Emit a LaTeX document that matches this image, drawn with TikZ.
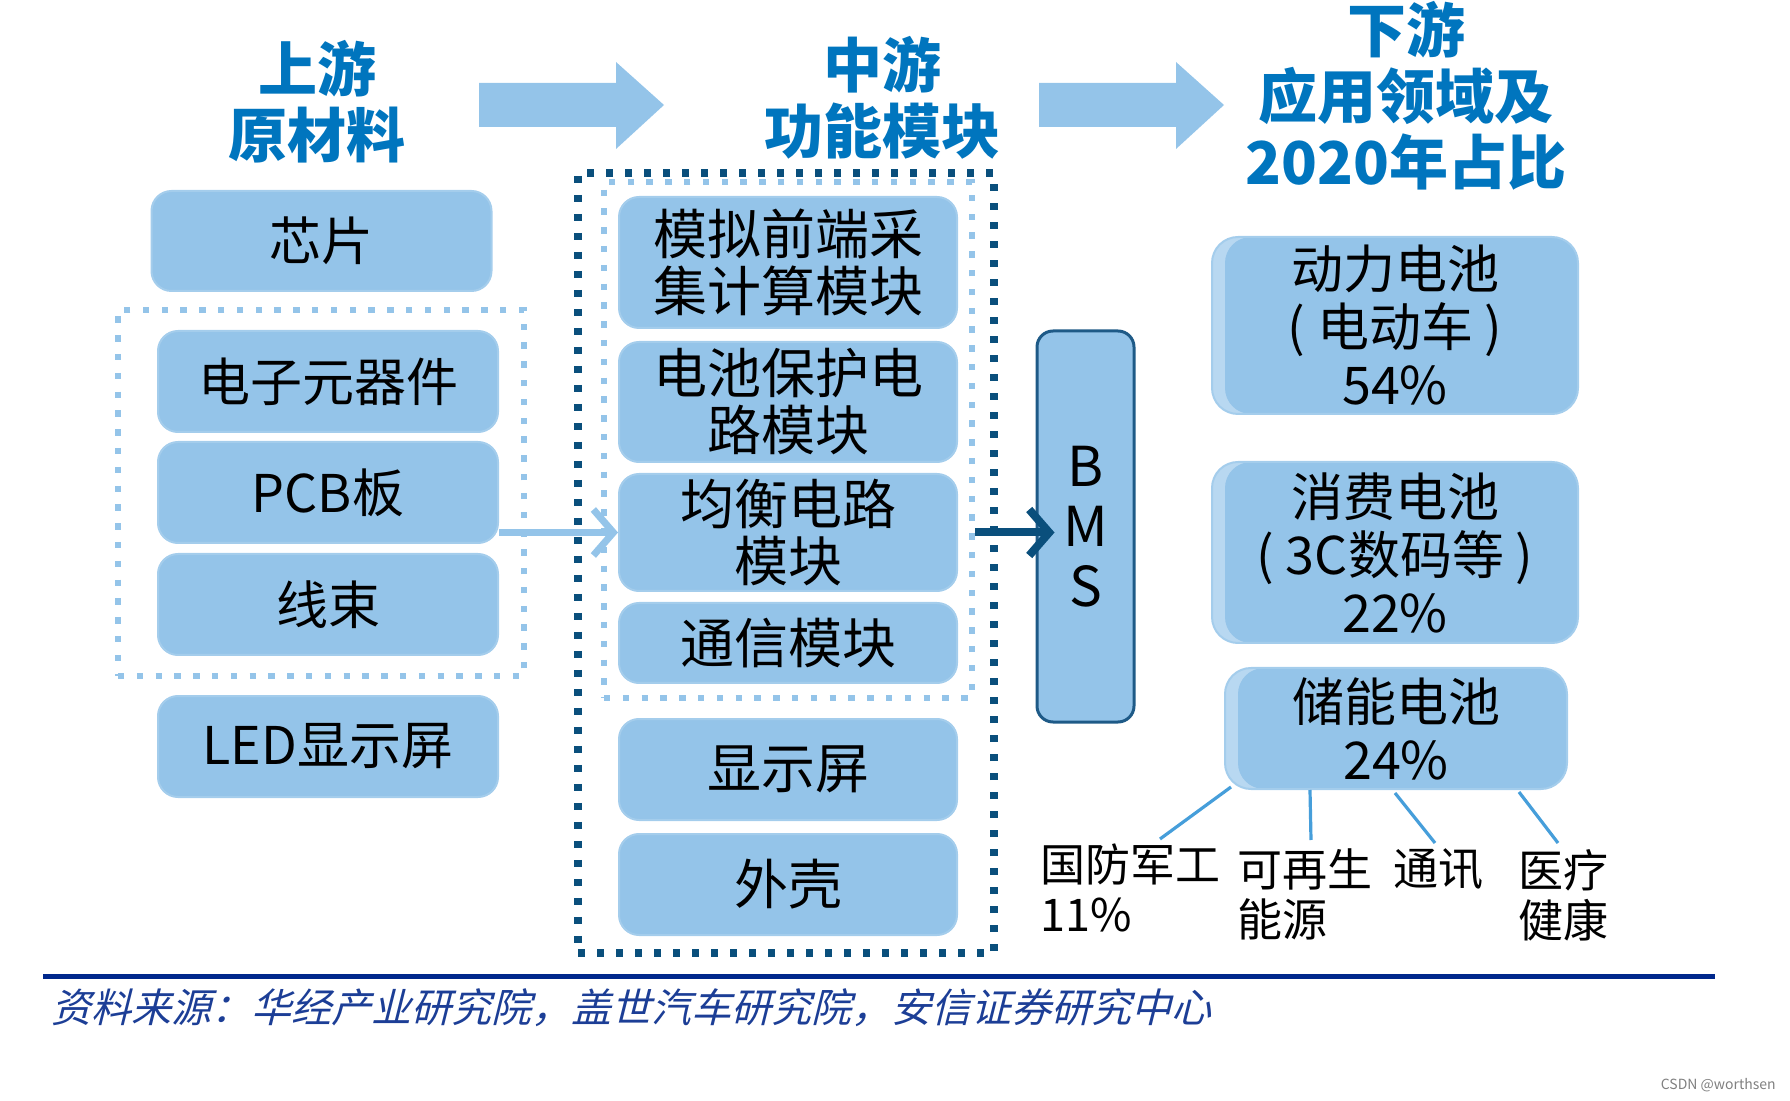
\documentclass[tikz,border=0pt]{standalone}
\usepackage{fontspec}
\setmainfont{Noto Sans CJK SC}
\newfontfamily\footfont[FakeSlant=0.25]{Noto Sans CJK SC}
\usetikzlibrary{arrows.meta,positioning,fit}
\definecolor{boxblue}{RGB}{148,196,233}
\definecolor{boxpale}{RGB}{184,216,241}
\definecolor{titleblue}{RGB}{0,117,190}
\definecolor{darkdot}{RGB}{10,79,124}
\definecolor{bmsedge}{RGB}{30,90,135}
\definecolor{legblue}{RGB}{70,158,218}
\definecolor{footblue}{RGB}{0,40,140}
\definecolor{srcblue}{RGB}{28,62,150}

\begin{document}
\begin{tikzpicture}[
  x=0.5pt,y=-0.5pt,
  stage/.style={text=titleblue,font=\fontsize{29.5}{33}\selectfont\bfseries,align=center},
  box/.style={fill=boxblue,draw=boxblue!85!white,line width=1pt,rounded corners=10pt,
              align=center,inner sep=0pt,text=black},
  upbox/.style={box,minimum width=170pt,minimum height=50.5pt,font=\fontsize{26}{28.5}\selectfont},
  midbox/.style={box,minimum width=169pt,font=\fontsize{27}{28.5}\selectfont},
  appbox/.style={box,fill=boxpale,rounded corners=13pt,font=\fontsize{26}{29}\selectfont,
                 path picture={\fill[boxblue,rounded corners=13pt]
                   ([xshift=6.5pt]path picture bounding box.south west) rectangle
                   (path picture bounding box.north east);}},
  bmsbox/.style={box,draw=bmsedge,line width=1.5pt,rounded corners=8pt,
                 minimum width=48.5pt,minimum height=195.5pt,font=\fontsize{27.5}{30}\selectfont},
  dotframe/.style={line width=3.2pt,dash pattern=on 3.2pt off 6.2pt},
  lab/.style={font=\fontsize{22.5}{25}\selectfont,align=left,inner sep=0pt,anchor=north west},
  arr/.style={-{Straight Barb[length=10pt,width=23pt]},line width=3.5pt},
  leg/.style={legblue,line width=1.6pt},
  bigarr/.style={fill=boxblue}
]
\useasboundingbox (0,0) rectangle (1790,1101);

% column headings
\node[stage] (tup) at (317,101.5) {上游\\原材料};
\node[stage] (tmid) at (882,98) {中游\\功能模块};
\node[stage] (tdown) at (1406,96) {下游\\应用领域及\\2020年占比};

% block arrows between the headings
\foreach \ax in {479,1039}
  \fill[bigarr] (\ax,83) -- ++(137,0) -- ++(0,-21) -- ++(48,43) -- ++(-48,44)
    -- ++(0,-22) -- ++(-137,0) -- cycle;

% upstream: raw materials
\node[upbox] (elec) at (328,381.5) {电子元器件};
\node[upbox,above=19pt of elec,xshift=-3.25pt,minimum height=50pt] (chip) {芯片};
\node[upbox,below=4pt of elec] (pcb) {PCB板};
\node[upbox,below=4.5pt of pcb] (wire) {线束};
\node[upbox,below=19.5pt of wire] (led) {LED显示屏};
\node[dotframe,draw=boxblue,fit=(elec)(wire),inner xsep=16pt,inner ysep=10pt,xshift=-3.5pt] (matframe) {};

% midstream: function modules
\node[midbox,minimum height=65.5pt] (afe) at (788,262.5) {模拟前端采\\集计算模块};
\node[midbox,minimum height=60pt,below=6pt of afe] (prot) {电池保护电\\路模块};
\node[midbox,minimum height=58.5pt,below=5pt of prot] (bal) {均衡电路\\模块};
\node[midbox,minimum height=40pt,below=5pt of bal] (comm) {通信模块};
\node[midbox,minimum height=50.5pt,below=17pt of comm] (disp) {显示屏};
\node[midbox,minimum height=50.5pt,below=6pt of disp] (shell) {外壳};
\node[dotframe,draw=boxblue,fit=(afe)(comm),inner xsep=7pt,inner ysep=7pt] (bmsframe) {};
\node[dotframe,draw=darkdot,line width=3.6pt,dash pattern=on 3.6pt off 5.9pt,
      fit=(afe)(shell),inner xsep=19pt,inner ysep=10pt,xshift=-1pt,yshift=1.5pt] (midframe) {};

\node[bmsbox] (bms) at (1085.5,526.5) {B\\M\\S};
\coordinate[xshift=9.5pt] (bmsin) at (bms.west |- bal);

\draw[arr,boxblue] (pcb.east |- bal) -- (bal.west);
\draw[arr,darkdot,line width=4pt] (bmsframe.east |- bal) -- (bmsin);

% downstream: applications and 2020 shares
\node[appbox,minimum width=183pt,minimum height=88.5pt] (ev) at (1395,325.5) {动力电池\\( 电动车 )\\54\%};
\node[appbox,minimum width=183pt,minimum height=90.5pt,below=23pt of ev] (cons) {消费电池\\( 3C数码等 )\\22\%};
\node[appbox,minimum width=171pt,minimum height=60.5pt,below=11.5pt of cons,xshift=0.5pt] (ess) {储能电池\\24\%};

\node[lab] (def) at (1040,843) {国防军工\\11\%};
\node[lab] (ren) at (1237,848) {可再生\\能源};
\node[lab] (tel) at (1393,848) {通讯};
\node[lab] (med) at (1518,849) {医疗\\健康};
\draw[leg] ([xshift=3.5pt,yshift=1.5pt]ess.south west) -- ([xshift=60pt,yshift=2pt]def.north west);
\draw[leg] ([xshift=43pt]ess.south west) -- ([xshift=37pt,yshift=4pt]ren.north west);
\draw[leg] ([xshift=-0.5pt,yshift=-1.5pt]ess.south) -- ([xshift=21pt,yshift=2.5pt]tel.north west);
\draw[leg] ([xshift=-24.5pt,yshift=-1pt]ess.south east) -- ([xshift=20pt,yshift=3pt]med.north west);

% source line
\coordinate (rulel) at (43,976);
\coordinate (ruler) at (1715,976);
\draw[footblue,line width=2.5pt] (rulel) -- (ruler);
\node[anchor=west,inner sep=0pt,text=srcblue,font=\footfont\fontsize{20}{24}\selectfont] (src) at (51,1008)
  {资料来源：华经产业研究院，盖世汽车研究院，安信证券研究中心};
\node[anchor=east,inner sep=0pt,text=gray,font=\fontsize{7}{8}\selectfont] (mark) at (1776,1085) {CSDN @worthsen};
\end{tikzpicture}
\end{document}
